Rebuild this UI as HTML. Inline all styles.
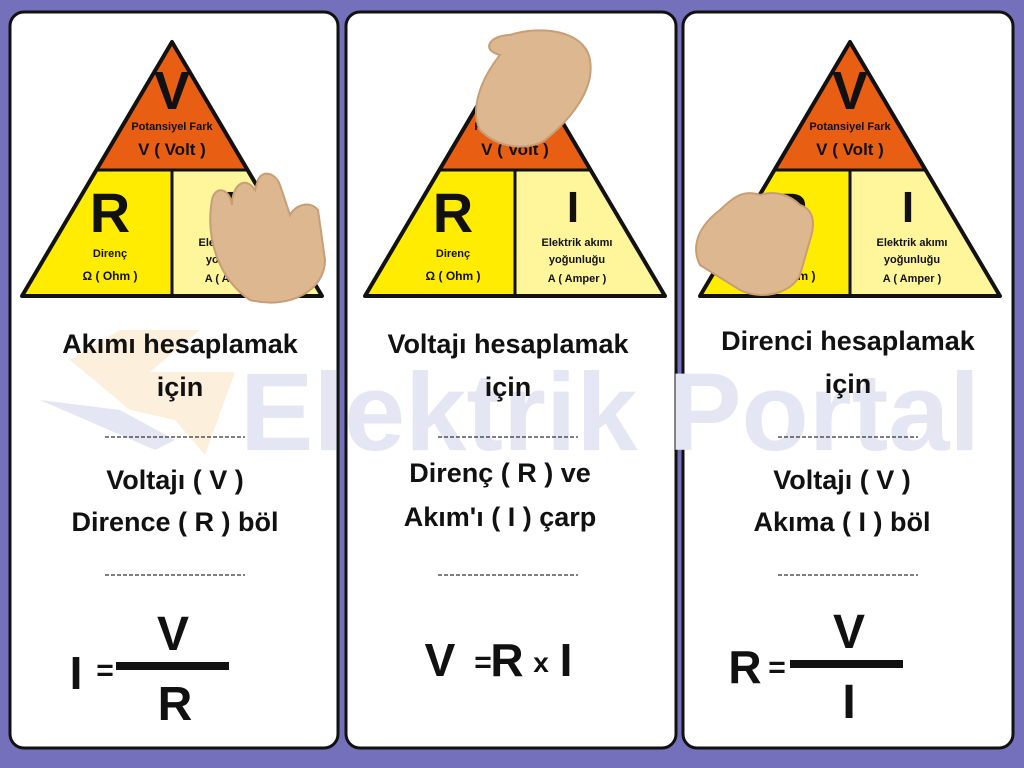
<!DOCTYPE html>
<html><head><meta charset="utf-8"><style>
html,body{margin:0;padding:0;background:#7570bb;width:1024px;height:768px;overflow:hidden}
svg text{font-family:"Liberation Sans","DejaVu Sans",sans-serif;font-weight:bold;text-anchor:middle;fill:#111}
</style></head><body>
<svg width="1024" height="768" viewBox="0 0 1024 768" xmlns="http://www.w3.org/2000/svg">
<rect x="0" y="0" width="1024" height="768" fill="#7570bb"/>
<rect x="10" y="12" width="328" height="736" rx="14" fill="#fff" stroke="#111" stroke-width="3"/>
<rect x="346" y="12" width="330" height="736" rx="14" fill="#fff" stroke="#111" stroke-width="3"/>
<rect x="683" y="12" width="330" height="736" rx="14" fill="#fff" stroke="#111" stroke-width="3"/>

<g>
<polygon points="70,360 120,330 200,330 150,372 235,372 205,455 175,420 130,410" fill="#fcefdc"/>
<polygon points="40,400 120,410 175,440 155,450" fill="#e4e6f3"/>
<text x="240" y="450" textLength="740" lengthAdjust="spacingAndGlyphs" style="font-size:110px;fill:#e4e6f3;text-anchor:start">Elektrik Portal</text>
</g>

<g id="T1" transform="translate(172,42)">
  <clipPath id="cl1"><path d="M0,0 L150,254 L-150,254 Z"/></clipPath>
  <g clip-path="url(#cl1)">
    <rect x="-160" y="-10" width="320" height="138" fill="#e85e12"/>
    <rect x="-160" y="128" width="160" height="140" fill="#ffec00"/>
    <rect x="0" y="128" width="160" height="140" fill="#fff59a"/>
  </g>
  <path d="M0,0 L150,254 L-150,254 Z" fill="none" stroke="#111" stroke-width="4" stroke-linejoin="round"/>
  <line x1="-76" y1="128" x2="76" y2="128" stroke="#111" stroke-width="3"/>
  <line x1="0" y1="128" x2="0" y2="254" stroke="#111" stroke-width="3"/>
  <text x="0" y="67" style="font-size:54px">V</text>
  <text x="0" y="88" style="font-size:11px">Potansiyel Fark</text>
  <text x="0" y="113" style="font-size:17px">V ( Volt )</text>
  <text x="-62" y="190" style="font-size:56px">R</text>
  <text x="-62" y="215" style="font-size:11px">Direnç</text>
  <text x="-62" y="238" style="font-size:12px">Ω ( Ohm )</text>
  <text x="58" y="180" style="font-size:44px">I</text>
  <text x="62" y="204" style="font-size:11px">Elektrik akımı</text>
  <text x="62" y="221" style="font-size:11px">yoğunluğu</text>
  <text x="62" y="240" style="font-size:11px">A ( Amper )</text>
</g>
<use href="#T1" x="343" y="0"/>
<use href="#T1" x="678" y="0"/>

<g fill="#ddb78f" stroke="#c79e75" stroke-width="2">
  <path d="M250,300 C220,280 205,240 212,200 C215,185 230,188 232,205 C232,185 245,175 255,190 L258,180 C262,170 275,172 280,185 L290,215 C295,205 310,200 318,210 L325,260 C325,290 290,310 250,300 Z"/>
  <path d="M480,130 C470,110 480,80 500,55 C480,50 490,35 510,35 C540,25 585,30 590,60 C595,90 570,120 545,140 C530,150 500,150 480,130 Z"/>
  <path d="M700,265 C690,245 700,225 720,210 C735,195 745,190 760,195 C775,190 790,195 800,205 C815,210 815,225 810,240 L800,275 C790,295 760,300 740,290 Z"/>
</g>

<text x="180" y="353" style="font-size:27px">Akımı hesaplamak</text>
<text x="180" y="396" style="font-size:27px">için</text>
<line x1="105" y1="437" x2="245" y2="437" stroke="#333" stroke-width="1.2" stroke-dasharray="4,2"/>
<text x="175" y="489" style="font-size:27px">Voltajı ( V )</text>
<text x="175" y="531" style="font-size:27px">Dirence ( R ) böl</text>
<line x1="105" y1="575" x2="245" y2="575" stroke="#333" stroke-width="1.2" stroke-dasharray="4,2"/>

<text x="508" y="353" style="font-size:27px">Voltajı hesaplamak</text>
<text x="508" y="396" style="font-size:27px">için</text>
<line x1="438" y1="437" x2="578" y2="437" stroke="#333" stroke-width="1.2" stroke-dasharray="4,2"/>
<text x="500" y="482" style="font-size:27px">Direnç ( R ) ve</text>
<text x="500" y="526" style="font-size:27px">Akım'ı ( I ) çarp</text>
<line x1="438" y1="575" x2="578" y2="575" stroke="#333" stroke-width="1.2" stroke-dasharray="4,2"/>

<text x="848" y="350" style="font-size:27px">Direnci hesaplamak</text>
<text x="848" y="393" style="font-size:27px">için</text>
<line x1="778" y1="437" x2="918" y2="437" stroke="#333" stroke-width="1.2" stroke-dasharray="4,2"/>
<text x="842" y="489" style="font-size:27px">Voltajı ( V )</text>
<text x="842" y="531" style="font-size:27px">Akıma ( I ) böl</text>
<line x1="778" y1="575" x2="918" y2="575" stroke="#333" stroke-width="1.2" stroke-dasharray="4,2"/>

<text x="76" y="689" style="font-size:46px">I</text>
<text x="105" y="680" style="font-size:30px">=</text>
<rect x="116" y="662" width="113" height="8" fill="#111"/>
<text x="173" y="650" style="font-size:48px">V</text>
<text x="175" y="720" style="font-size:48px">R</text>

<text x="440" y="676" style="font-size:46px">V</text>
<text x="483" y="672" style="font-size:30px">=</text>
<text x="507" y="676" style="font-size:46px">R</text>
<text x="541" y="672" style="font-size:28px">x</text>
<text x="566" y="676" style="font-size:46px">I</text>

<text x="745" y="683" style="font-size:46px">R</text>
<text x="777" y="677" style="font-size:30px">=</text>
<rect x="790" y="660" width="113" height="8" fill="#111"/>
<text x="849" y="648" style="font-size:48px">V</text>
<text x="849" y="718" style="font-size:48px">I</text>
</svg>
</body></html>
